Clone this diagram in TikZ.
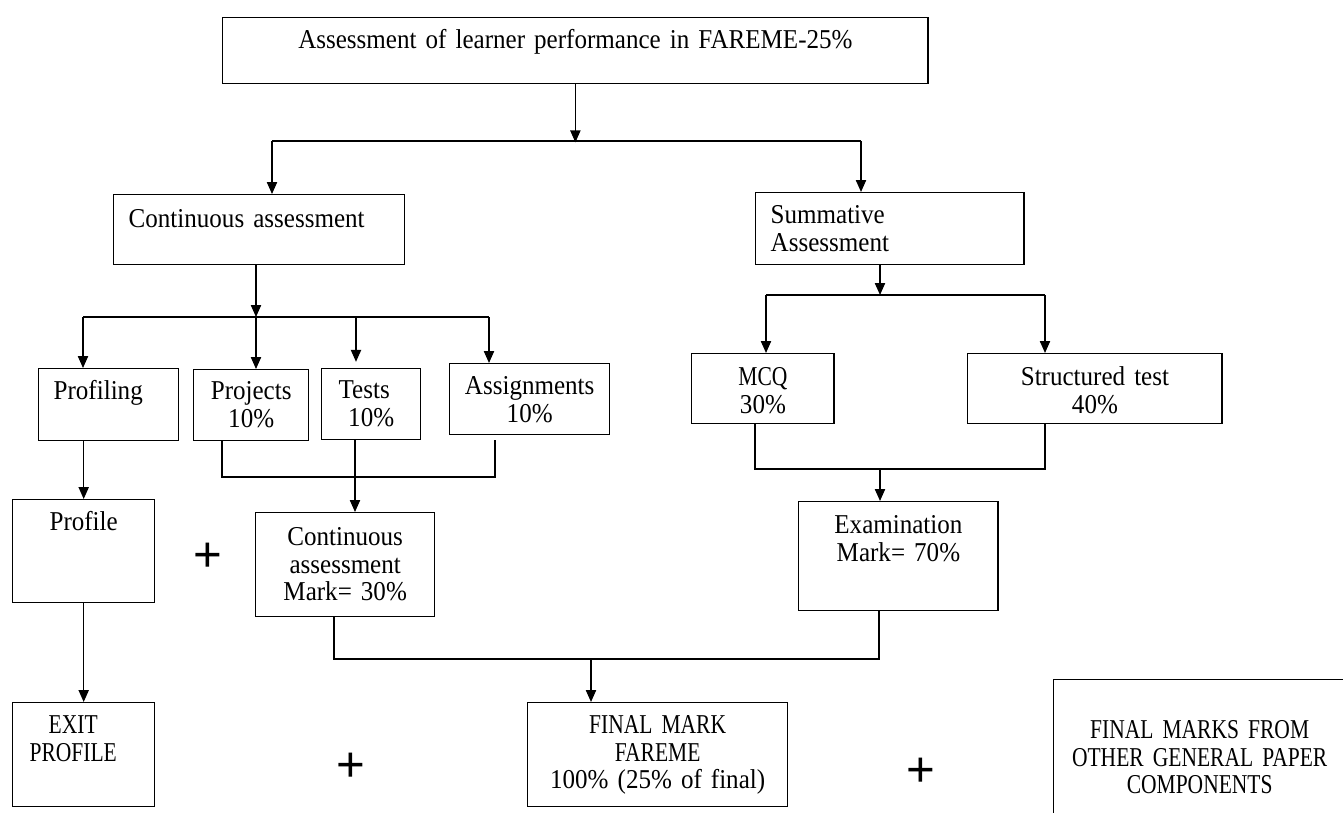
\documentclass[tikz,border=0pt]{standalone}
\usepackage{fontspec}
\setmainfont[FakeStretch=0.92, WordSpace=0.8]{Liberation Serif}
\newfontfamily\capsfont[FakeStretch=0.79, WordSpace=0.8]{Liberation Serif}
\newfontfamily\plusfont{Liberation Sans}
\usepackage{tikz}
\usetikzlibrary{arrows.meta}
\newcommand{\padr}[1]{\makebox[#1]{}}

\begin{document}
\begin{tikzpicture}[x=0.02cm, y=-0.02cm,
    font=\fontsize{15.5pt}{15.7pt}\selectfont,
    blk/.style={draw, line width=0.8pt, anchor=north west, inner xsep=0.3cm, inner ysep=0pt, align=center},
    link/.style={line width=0.8pt},
    arr/.style={link, -{Triangle[width=5.8pt,length=6.8pt]}},
    plus/.style={font=\plusfont\fontsize{28pt}{28pt}\selectfont, inner sep=0pt}]
\useasboundingbox (0,0) rectangle (1343,812);
\clip (0,0) rectangle (1343,812);

% Top box
\node[blk, text width=13.51cm, text height=0.62cm, text depth=0.70cm] (fareme) at (222,17) {Assessment of learner performance in FAREME-25\%};

% Two kinds of assessment
\node[blk, align=left, text width=5.22cm, text height=0.66cm, text depth=0.74cm] (contass) at (113,194) {Continuous assessment};
\node[blk, align=left, text width=4.77cm, text height=0.62cm, text depth=0.82cm] (summass) at (755,192) {Summative\\Assessment};

% Components
\node[blk, align=left, text width=2.20cm, text height=0.62cm, text depth=0.82cm] (profiling) at (38,368) {Profiling};
\node[blk, text width=1.70cm, text height=0.60cm, text depth=0.82cm] (projects) at (193,369) {Projects\\10\%};
\node[blk, text width=1.38cm, text height=0.60cm, text depth=0.82cm] (tests) at (321,368) {Tests\padr{0.28cm}\\10\%};
\node[blk, inner xsep=0.1cm, text width=3.00cm, text height=0.62cm, text depth=0.80cm] (assign) at (449,363) {Assignments\\10\%};
\node[blk, text width=2.25cm, text height=0.64cm, text depth=0.76cm] (mcq) at (691,353) {{\capsfont MCQ}\\30\%};
\node[blk, text width=4.49cm, text height=0.64cm, text depth=0.76cm] (struct) at (967,353) {Structured test\\40\%};

% Marks
\node[blk, text width=2.24cm, text height=0.62cm, text depth=1.44cm] (profile) at (12,499) {Profile};
\node[blk, text width=2.98cm, text height=0.66cm, text depth=1.42cm] (camark) at (255,512) {Continuous\\assessment\\Mark= 30\%};
\node[blk, text width=3.39cm, text height=0.64cm, text depth=1.54cm] (exam) at (798,501) {Examination\\Mark= 70\%};

% Final row
\node[blk, text width=2.24cm, text height=0.62cm, text depth=1.46cm] (exit) at (12,702) {\capsfont EXIT\padr{0.42cm}\\PROFILE\padr{0.42cm}};
\node[blk, text width=4.60cm, text height=0.62cm, text depth=1.46cm] (final) at (527,702) {\capsfont FINAL MARK\\FAREME\\\normalfont 100\% (25\% of final)};
\node[blk, inner xsep=0.1cm, text width=5.64cm, text height=1.18cm, text depth=2.04cm] (other) at (1053,679) {\capsfont FINAL MARKS FROM\\OTHER GENERAL PAPER\\COMPONENTS};

% Plus signs
\node[plus] (plusa) at (208,557) {+};
\node[plus] (plusb) at (351,767) {+};
\node[plus] (plusc) at (921,772) {+};

% Split below the top box
\path (fareme.south) ++(0,58) coordinate (sp1);
\coordinate (sp1l) at (272,141);
\coordinate (sp1r) at (861,141);
\draw[arr] (fareme.south) -- (sp1);
\draw[link] (sp1l) -- (sp1r);
\draw[arr] (sp1l) -- (sp1l |- contass.north);
\draw[arr] (sp1r) -- (sp1r |- summass.north);

% Continuous assessment branches
\coordinate (sp2) at (256,317);
\coordinate (sp2l) at (83,317);
\coordinate (sp2t) at (356,317);
\coordinate (sp2r) at (489,317);
\draw[arr] (sp2 |- contass.south) -- (sp2);
\draw[link] (sp2l) -- (sp2r);
\foreach \c/\n in {sp2l/profiling, sp2/projects, sp2r/assign}
    \draw[arr] (\c) -- (\c |- \n.north);
\draw[arr, shorten >=3.5pt] (sp2t) -- (sp2t |- tests.north);

% Join into continuous assessment mark
\coordinate (jn1) at (222,477);
\coordinate (jn1t) at (355,477);
\coordinate (jn1r) at (495,477);
\draw[link, shorten >=2.8pt] (jn1 |- projects.south) -- (jn1) -- (jn1r) -- (jn1r |- assign.south);
\draw[arr] (jn1t |- tests.south) -- (jn1t |- camark.north);

% Profile chain
\draw[arr] (profiling.south -| profile.north) -- (profile.north);
\draw[arr] (profile.south) -- (exit.north);

% Summative branches
\coordinate (sp3) at (880,295);
\coordinate (sp3l) at (766,295);
\coordinate (sp3r) at (1045,295);
\draw[arr] (sp3 |- summass.south) -- (sp3);
\draw[link] (sp3l) -- (sp3r);
\draw[arr] (sp3l) -- (sp3l |- mcq.north);
\draw[arr] (sp3r) -- (sp3r |- struct.north);

% Join into examination mark
\coordinate (jn3) at (880,469);
\coordinate (jn3l) at (755,469);
\coordinate (jn3r) at (1045,469);
\draw[link] (jn3l |- mcq.south) -- (jn3l) -- (jn3r) -- (jn3r |- struct.south);
\draw[arr] (jn3) -- (jn3 |- exam.north);

% Join into final mark
\coordinate (jn2) at (591,659);
\coordinate (jn2l) at (334,659);
\coordinate (jn2r) at (879,659);
\draw[link] (jn2l |- camark.south) -- (jn2l) -- (jn2r) -- (jn2r |- exam.south);
\draw[arr] (jn2) -- (jn2 |- final.north);
\end{tikzpicture}
\end{document}
